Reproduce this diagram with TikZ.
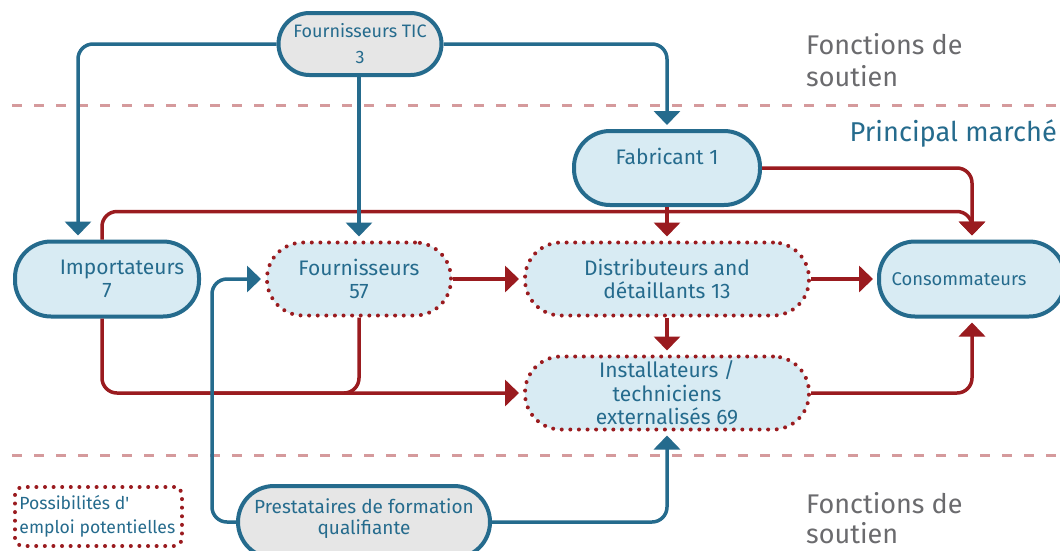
\documentclass[tikz,border=0pt]{standalone}
\usepackage{fontspec}
\setmainfont{Fira Sans}
\usetikzlibrary{arrows.meta}
\definecolor{cblue}{HTML}{256B8D}
\definecolor{cred}{HTML}{9A1B1F}
\definecolor{cfill}{HTML}{D8EBF3}
\definecolor{cgray}{HTML}{E6E6E6}
\definecolor{cdash}{HTML}{D59A9C}
\definecolor{ctext}{HTML}{6B6B6E}
\tikzset{
  box/.style={rectangle, rounded corners=36pt, line width=4pt, draw=cblue,
    fill=cfill, text=cblue, align=center, inner sep=0pt,
    font=\fontsize{21}{23.5}\selectfont},
  supbox/.style={box, fill=cgray},
  dotbox/.style={box, draw=cred, line width=4pt, line cap=round,
    dash pattern=on 0pt off 8.6pt},
  blueline/.style={draw=cblue, line width=3.5pt, rounded corners=15pt,
    -{Triangle[width=26pt,length=14pt]}, shorten >=4pt},
  redline/.style={blueline, draw=cred},
  sepline/.style={draw=cdash, line width=3pt, dash pattern=on 10pt off 12pt},
  zone/.style={text=ctext, align=left, anchor=west, inner sep=0pt,
    font=\fontsize{27}{32}\selectfont},
}
\begin{document}
\begin{tikzpicture}[x=1pt,y=-1pt]
\clip (0,0) rectangle (1060,550);
\fill[white] (0,0) rectangle (1060,550);

% boundaries between the support functions and the main market
\draw[sepline] (12,105) -- (1060,105);
\draw[sepline] (12,455) -- (1060,455);

% actors
\node[supbox, minimum width=163pt, minimum height=62pt, rounded corners=31pt,
  font=\fontsize{18}{26}\selectfont] (tic) at (360,44) {Fournisseurs TIC\\3};
\node[box, minimum width=186pt, minimum height=74pt] (fab) at (667,168)
  {Fabricant 1\\\mbox{}};
\node[box, minimum width=184pt, minimum height=75pt] (imp) at (107,279)
  {\hspace*{30pt}Importateurs\\7};
\node[dotbox, minimum width=184pt, minimum height=73pt] (f57) at (359,279)
  {Fournisseurs\\57};
\node[dotbox, minimum width=284pt, minimum height=73pt] (dist) at (667,279)
  {Distributeurs and\\détaillants 13};
\node[box, minimum width=186pt, minimum height=75pt,
  font=\fontsize{18.4}{20}\selectfont] (cons) at (972,279)
  {Consommateurs\hspace*{26pt}};
\node[dotbox, minimum width=284pt, minimum height=73pt] (inst) at (667,393)
  {Installateurs /\\techniciens\\externalisés 69};
\node[supbox, minimum width=252pt, minimum height=72pt,
  font=\fontsize{19}{20.5}\selectfont] (prest) at (364,522)
  {Prestataires de formation\\qualifiante\\[-10pt]\mbox{}};

% legend
\node[dotbox, fill=none, rounded corners=8pt, minimum width=167pt,
  minimum height=59pt, align=left, font=\fontsize{17.6}{24}\selectfont]
  (leg) at (98.5,516.5)
  {\parbox{158pt}{Possibilités d\textquotesingle\\emploi potentielles}};

% zone labels
\node[zone] (ztop) at (806,60) {Fonctions de\\soutien};
\node[zone, text=cblue, anchor=east, font=\fontsize{27.2}{30}\selectfont]
  (zmid) at (1057,133) {Principal marché};
\node[zone, font=\fontsize{27}{30}\selectfont] (zbot) at (806,518)
  {Fonctions de\\soutien};

% junction where the supplier line meets the importer line
\coordinate (join) at (150,393);

% market flows
\draw[redline] (fab.east) -| (cons.north);
\draw[redline] ([xshift=-5pt]imp.north) -- ++(0,-28) -| (cons.north);
\draw[redline] (fab.south) -- (dist.north);
\draw[redline] (f57.east) -- (dist.west);
\draw[redline] (dist.east) -- (cons.west);
\draw[redline] (dist.south) -- (inst.north);
\draw[redline] ([xshift=-5pt]imp.south) |- (inst.west);
\draw[redline, -, shorten >=0pt] (f57.south) |- (join);
\draw[redline] (inst.east) -| (cons.south);

% support flows
\draw[blueline] (tic.west) -| ([xshift=-29pt]imp.north);
\draw[blueline] (tic.south -| f57.north) -- (f57.north);
\draw[blueline] (tic.east) -| (fab.north);
\draw[blueline] (prest.west) -- ++(-24,0) |- (f57.west);
\draw[blueline] (prest.east) -| (inst.south);
\end{tikzpicture}
\end{document}
